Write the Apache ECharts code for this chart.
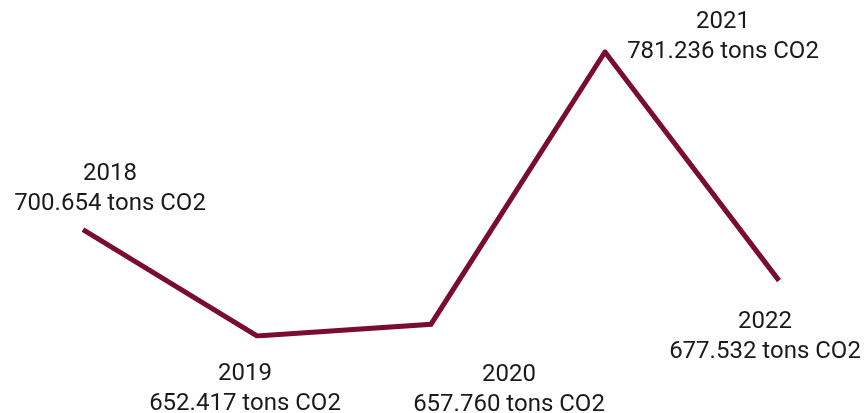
<!DOCTYPE html>
<html><head><meta charset="utf-8">
<script src="https://cdn.jsdelivr.net/npm/echarts@6/dist/echarts.min.js"></script>
<style>html,body{margin:0;padding:0;background:#fff}#c{width:865px;height:413px}</style>
</head><body><div id="c"></div>
<script>
const years = ['2018','2019','2020','2021','2022'];
const emissions = [700.654, 652.417, 657.760, 781.236, 677.532];
const unit = 'tons CO2';
const labelOffsets = [[27,-41],[-12,53],[78,66],[118,-15],[-14,56]];

const chart = echarts.init(document.getElementById('c'));
chart.setOption({
  animation:false,
  grid:{left:83,right:86,top:52,bottom:77},
  xAxis:{type:'category',data:years,boundaryGap:false,show:false},
  yAxis:{type:'value',min:'dataMin',max:'dataMax',show:false},
  series:[{
    type:'line',
    symbol:'circle',
    symbolSize:2,
    showSymbol:true,
    showAllSymbol:true,
    itemStyle:{color:'rgba(0,0,0,0)',borderWidth:0},
    lineStyle:{color:'#7a0b31',width:5,join:'miter'},
    labelLayout:{hideOverlap:false},
    data: emissions.map((v,i)=>({
      value:v,
      label:{
        show:true,
        position:[labelOffsets[i][0]+1, labelOffsets[i][1]+1],
        formatter:years[i]+'\n'+v.toFixed(3)+' '+unit,
        color:'#1a1a1a',fontSize:24,lineHeight:30,fontFamily:'Roboto',
        align:'center',verticalAlign:'middle'
      }
    }))
  }]
});
</script></body></html>
